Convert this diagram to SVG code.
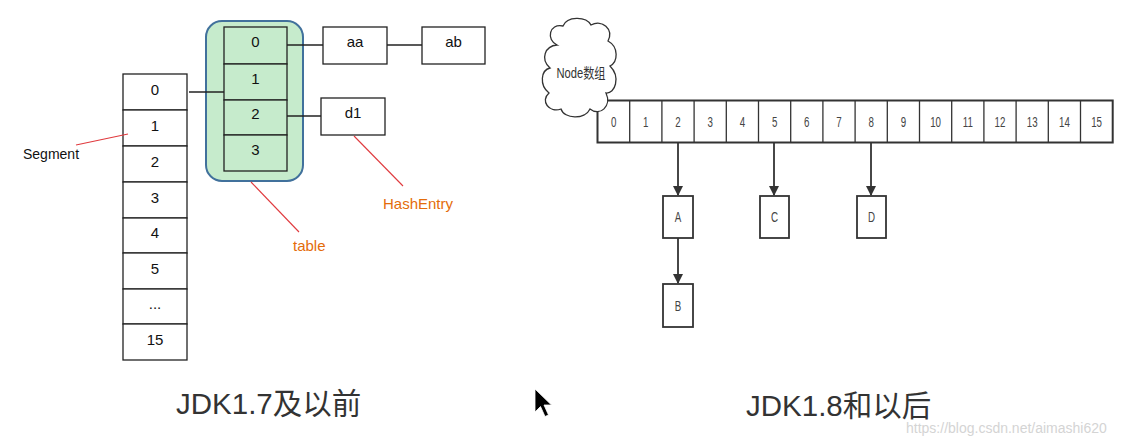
<svg xmlns="http://www.w3.org/2000/svg" width="1142" height="446" viewBox="0 0 1142 446">
<style>
.cell{fill:#fff;stroke:#222;stroke-width:1.3}
.gcell{fill:#c6ebcc;stroke:#222;stroke-width:1.3}
.t{font-family:"Liberation Sans",Arial,sans-serif;font-size:15px;fill:#111;text-anchor:middle}
.n{font-family:"Liberation Sans",Arial,sans-serif;font-size:15px;fill:#444;text-anchor:middle}
.o{font-family:"Liberation Sans",Arial,sans-serif;font-size:15px;fill:#e46c0a}
.ln{stroke:#222;stroke-width:1.3;fill:none}
.red{stroke:#e03a3e;stroke-width:1.1;fill:none}
.arr{stroke:#333;stroke-width:1.8;fill:none}
.box{fill:#fff;stroke:#333;stroke-width:1.8}
.big{font-family:"Liberation Sans","Noto Sans CJK SC",sans-serif;font-size:29.5px;fill:#333}
</style>
<defs>
<marker id="ah" markerWidth="10" markerHeight="12" refX="9" refY="5" orient="auto" markerUnits="userSpaceOnUse">
<path d="M0,0 L10,5 L0,10 Z" fill="#333"/>
</marker>
</defs>
<rect width="1142" height="446" fill="#fff"/>

<g id="segment">
<rect class="cell" x="123" y="74" width="64" height="36"/>
<rect class="cell" x="123" y="110" width="64" height="36"/>
<rect class="cell" x="123" y="146" width="64" height="36"/>
<rect class="cell" x="123" y="182" width="64" height="36"/>
<rect class="cell" x="123" y="218" width="64" height="35"/>
<rect class="cell" x="123" y="253" width="64" height="36"/>
<rect class="cell" x="123" y="289" width="64" height="35"/>
<rect class="cell" x="123" y="324" width="64" height="36"/>
<text class="t" x="155" y="95">0</text>
<text class="t" x="155" y="131">1</text>
<text class="t" x="155" y="167">2</text>
<text class="t" x="155" y="203">3</text>
<text class="t" x="155" y="238">4</text>
<text class="t" x="155" y="274">5</text>
<text class="t" x="155" y="309">...</text>
<text class="t" x="155" y="345">15</text>
</g>

<g id="table">
<rect x="206" y="21" width="97" height="160" rx="16" fill="#c6ebcc" stroke="#41719c" stroke-width="2"/>
<rect class="gcell" x="224" y="27" width="63" height="37"/>
<rect class="gcell" x="224" y="64" width="63" height="36"/>
<rect class="gcell" x="224" y="100" width="63" height="35"/>
<rect class="gcell" x="224" y="135" width="63" height="36"/>
<text class="t" x="255.5" y="47">0</text>
<text class="t" x="255.5" y="84">1</text>
<text class="t" x="255.5" y="119">2</text>
<text class="t" x="255.5" y="155">3</text>
</g>

<g id="aa"><rect class="cell" x="323" y="27" width="64" height="37"/><text class="t" x="355" y="47">aa</text></g>
<g id="ab"><rect class="cell" x="422" y="27" width="63" height="37"/><text class="t" x="453.5" y="47">ab</text></g>
<g id="d1"><rect class="cell" x="321" y="98" width="64" height="37"/><text class="t" x="353" y="118">d1</text></g>

<g id="labels">
<text x="23" y="159" font-family="Liberation Sans, Arial, sans-serif" font-size="14" fill="#111">Segment</text>
<text class="o" x="293" y="251">table</text>
<text class="o" x="383" y="209">HashEntry</text>
</g>

<g id="connectors">
<line class="ln" x1="189" y1="92" x2="224" y2="92"/>
<line class="ln" x1="287" y1="45" x2="323" y2="45"/>
<line class="ln" x1="387" y1="45" x2="422" y2="45"/>
<line class="ln" x1="287" y1="116" x2="321" y2="116"/>
<line class="red" x1="76" y1="145" x2="128" y2="134"/>
<line class="red" x1="251" y1="182" x2="299" y2="232"/>
<line class="red" x1="354" y1="136" x2="403" y2="186"/>
<line class="arr" x1="678" y1="143" x2="678" y2="195" marker-end="url(#ah)"/>
<line class="arr" x1="774" y1="143" x2="774" y2="195" marker-end="url(#ah)"/>
<line class="arr" x1="871" y1="143" x2="871" y2="195" marker-end="url(#ah)"/>
<line class="arr" x1="678" y1="238" x2="678" y2="283" marker-end="url(#ah)"/>
</g>

<g id="node-array">
<rect x="597.5" y="100.5" width="515.2" height="42" fill="#fff" stroke="#333" stroke-width="2"/>
<g stroke="#333" stroke-width="1.3">
<line x1="629.7" y1="100.5" x2="629.7" y2="142.5"/>
<line x1="661.9" y1="100.5" x2="661.9" y2="142.5"/>
<line x1="694.1" y1="100.5" x2="694.1" y2="142.5"/>
<line x1="726.3" y1="100.5" x2="726.3" y2="142.5"/>
<line x1="758.5" y1="100.5" x2="758.5" y2="142.5"/>
<line x1="790.7" y1="100.5" x2="790.7" y2="142.5"/>
<line x1="822.9" y1="100.5" x2="822.9" y2="142.5"/>
<line x1="855.1" y1="100.5" x2="855.1" y2="142.5"/>
<line x1="887.3" y1="100.5" x2="887.3" y2="142.5"/>
<line x1="919.5" y1="100.5" x2="919.5" y2="142.5"/>
<line x1="951.7" y1="100.5" x2="951.7" y2="142.5"/>
<line x1="983.9" y1="100.5" x2="983.9" y2="142.5"/>
<line x1="1016.1" y1="100.5" x2="1016.1" y2="142.5"/>
<line x1="1048.3" y1="100.5" x2="1048.3" y2="142.5"/>
<line x1="1080.5" y1="100.5" x2="1080.5" y2="142.5"/>
</g>
<text class="n" transform="translate(613.6,127) scale(0.65,1)">0</text>
<text class="n" transform="translate(645.8,127) scale(0.65,1)">1</text>
<text class="n" transform="translate(678,127) scale(0.65,1)">2</text>
<text class="n" transform="translate(710.2,127) scale(0.65,1)">3</text>
<text class="n" transform="translate(742.4,127) scale(0.65,1)">4</text>
<text class="n" transform="translate(774.6,127) scale(0.65,1)">5</text>
<text class="n" transform="translate(806.8,127) scale(0.65,1)">6</text>
<text class="n" transform="translate(839,127) scale(0.65,1)">7</text>
<text class="n" transform="translate(871.2,127) scale(0.65,1)">8</text>
<text class="n" transform="translate(903.4,127) scale(0.65,1)">9</text>
<text class="n" transform="translate(935.6,127) scale(0.65,1)">10</text>
<text class="n" transform="translate(967.8,127) scale(0.65,1)">11</text>
<text class="n" transform="translate(1000,127) scale(0.65,1)">12</text>
<text class="n" transform="translate(1032.2,127) scale(0.65,1)">13</text>
<text class="n" transform="translate(1064.4,127) scale(0.65,1)">14</text>
<text class="n" transform="translate(1096.6,127) scale(0.65,1)">15</text>
</g>

<g id="cloud">
<path d="M557,45 C546,40 549,23 563,26 C567,16 586,16 591,25 C602,19 614,29 608,41 C619,47 618,62 610,66 C621,77 615,94 606,93 C612,106 600,117 590,109 C585,120 564,119 561,109 C549,113 540,101 549,93 C539,85 541,70 550,68 C540,59 545,46 557,45 Z" fill="#fff" stroke="#333" stroke-width="1.3"/>
<text transform="translate(581,78) scale(0.8,1)" text-anchor="middle" font-family="Liberation Sans, Noto Sans CJK SC, sans-serif" font-size="14" fill="#333">Node数组</text>
</g>

<g id="A"><rect class="box" x="663" y="196" width="30" height="42"/><text class="n" transform="translate(678,222) scale(0.65,1)">A</text></g>
<g id="B"><rect class="box" x="663" y="284" width="30" height="43"/><text class="n" transform="translate(678,311) scale(0.65,1)">B</text></g>
<g id="C"><rect class="box" x="760" y="196" width="29" height="42"/><text class="n" transform="translate(774.5,222) scale(0.65,1)">C</text></g>
<g id="D"><rect class="box" x="857" y="196" width="29" height="42"/><text class="n" transform="translate(871.5,222) scale(0.65,1)">D</text></g>

<g id="captions">
<text class="big" x="176" y="414">JDK1.7及以前</text>
<text class="big" x="746" y="416">JDK1.8和以后</text>
<text x="906" y="433" font-family="Liberation Sans, Arial, sans-serif" font-size="14" fill="#d4d4d4">https://blog.csdn.net/aimashi620</text>
</g>

<g id="cursor">
<path d="M535,389 L535,412 L540.5,406.5 L545,416.5 L548.5,415 L544,405 L551.5,405 Z" fill="#000" stroke="#fff" stroke-width="0.8"/>
</g>
</svg>
